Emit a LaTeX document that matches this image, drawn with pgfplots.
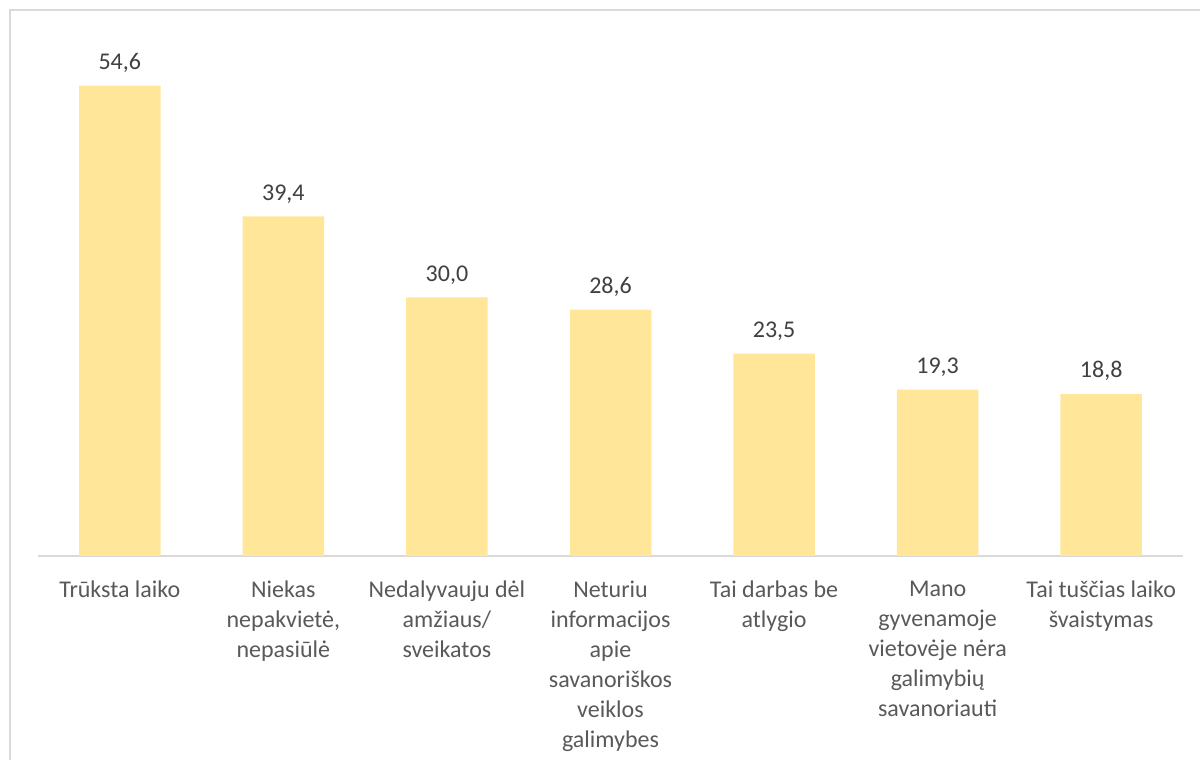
\documentclass[border=0pt]{standalone}
\usepackage{pgfplots}
\pgfplotsset{compat=1.18}
\usepackage{fontspec}
\setmainfont{Carlito}
\definecolor{barc}{HTML}{FFE699}
\definecolor{labc}{HTML}{595959}
\definecolor{valc}{HTML}{404040}
\definecolor{linec}{HTML}{D9D9D9}
\begin{document}
\begin{tikzpicture}
\useasboundingbox (0,0) rectangle (600pt,380pt);
\draw[linec, line width=1pt] (5pt,-5pt) -- (5pt,375pt) -- (605pt,375pt);
\begin{axis}[
  at={(19pt,102pt)}, anchor=south west,
  scale only axis, width=572.5pt, height=258.5pt,
  ymin=0, ymax=60, xmin=-0.5, xmax=6.5,
  axis x line*=bottom, axis y line=none,
  x axis line style={-, draw=linec, line width=1pt},
  xtick={0,...,6}, major tick length=0pt,
  xticklabels={
    {Trūksta laiko},
    {Niekas\\nepakvietė,\\nepasiūlė},
    {Nedalyvauju dėl\\amžiaus/\\sveikatos},
    {Neturiu\\informacijos\\apie\\savanoriškos\\veiklos\\galimybes},
    {Tai darbas be\\atlygio},
    {Mano\\gyvenamoje\\vietovėje nėra\\galimybių\\savanoriauti},
    {Tai tuščias laiko\\švaistymas}},
  xticklabel style={align=center, text=labc, font=\fontsize{12}{15}\selectfont, anchor=north, yshift=-9pt},
  ytick=\empty,
  ybar, bar width=40.75pt,
  nodes near coords,
  every node near coord/.append style={text=valc, font=\fontsize{12}{15}\selectfont, yshift=3pt,
    /pgf/number format/.cd, fixed, fixed zerofill, precision=1, use comma, assume math mode=true},
]
\addplot[fill=barc, draw=none] coordinates {(0,54.6) (1,39.4) (2,30.0) (3,28.6) (4,23.5) (5,19.3) (6,18.8)};
\end{axis}
\end{tikzpicture}
\end{document}
